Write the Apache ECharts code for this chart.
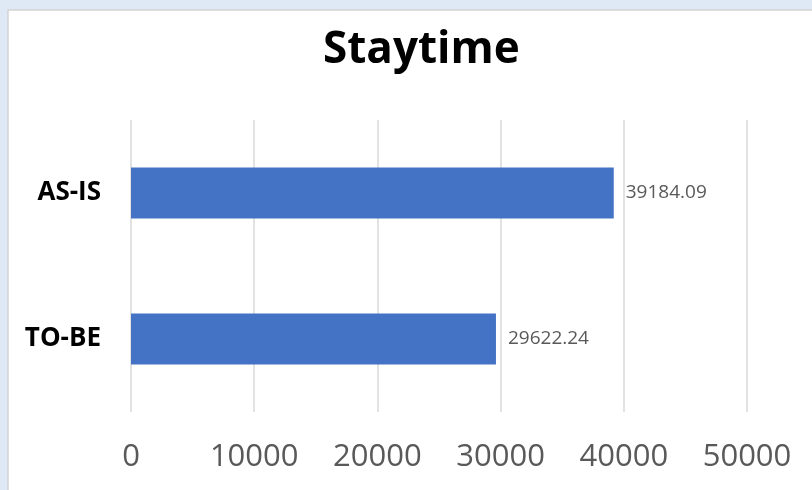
<!DOCTYPE html>
<html><head><meta charset="utf-8">
<script src="https://cdn.jsdelivr.net/npm/echarts@6/dist/echarts.min.js"></script>
<style>html,body{margin:0;padding:0;background:#dfe9f5;}#c{width:812px;height:490px;}</style>
</head><body><div id="c"></div>
<script>
const categories = ['TO-BE', 'AS-IS'];
const values = [29622.24, 39184.09];
const tickMax = 50000;
const tickStep = 10000;

const chart = echarts.init(document.getElementById('c'));
chart.setOption({
  backgroundColor: '#dfe9f5',
  graphic: [{
    type: 'rect', z: -10, silent: true,
    shape: { x: 8, y: 10, width: 812, height: 490 },
    style: { fill: '#ffffff', stroke: '#d4d4d4', lineWidth: 1.5 }
  }],
  title: {
    text: 'Staytime', left: 318, top: 23,
    textStyle: { fontFamily: 'Open Sans', fontWeight: 'bold', fontSize: 44, color: '#000000' }
  },
  grid: { left: 131, right: 65, top: 120, bottom: 78, containLabel: false },
  xAxis: {
    type: 'value', min: 0, max: tickMax, interval: tickStep,
    axisLine: { show: false }, axisTick: { show: false },
    splitLine: { lineStyle: { color: '#d9d9d9', width: 1.5 } },
    axisLabel: { margin: 30, fontSize: 31, color: '#595959', fontFamily: 'Open Sans',
      formatter: v => String(v) }
  },
  yAxis: {
    type: 'category', data: categories,
    axisLine: { show: false }, axisTick: { show: false },
    axisLabel: { margin: 30, fontSize: 26, fontWeight: 'bold', color: '#000000', fontFamily: 'Open Sans' }
  },
  series: [{
    type: 'bar', data: values, barWidth: 51,
    itemStyle: { color: '#4472c4' },
    label: {
      show: true, position: 'right', distance: 12,
      fontSize: 19, color: '#595959', fontFamily: 'Open Sans',
      formatter: p => p.value.toFixed(2)
    }
  }]
});
</script></body></html>
